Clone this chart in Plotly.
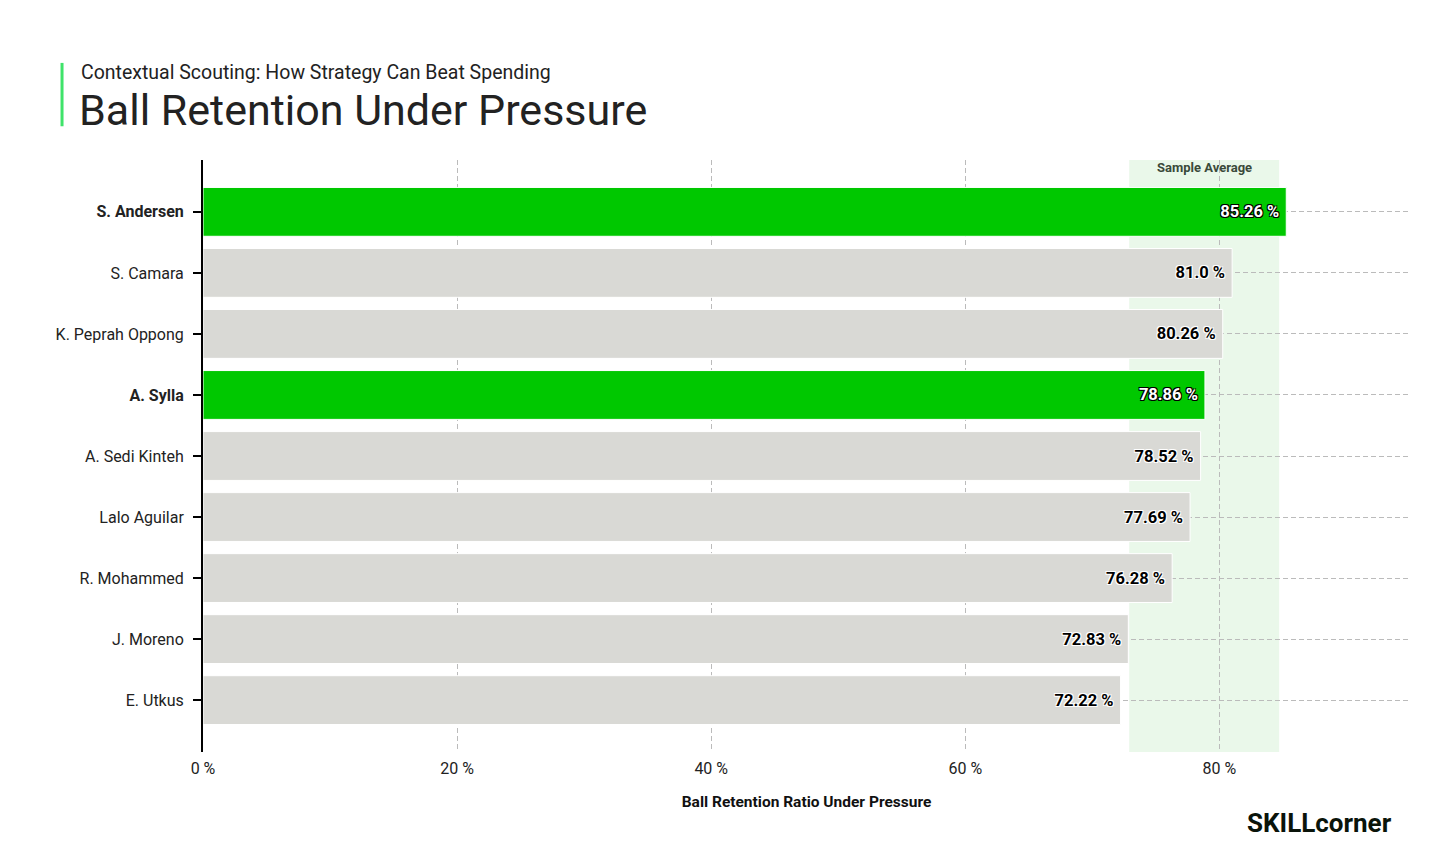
import plotly.graph_objects as go

players = ["S. Andersen", "S. Camara", "K. Peprah Oppong", "A. Sylla", "A. Sedi Kinteh",
           "Lalo Aguilar", "R. Mohammed", "J. Moreno", "E. Utkus"]
values = [85.26, 81.0, 80.26, 78.86, 78.52, 77.69, 76.28, 72.83, 72.22]
highlight = ["S. Andersen", "A. Sylla"]
x_ticks = [0, 20, 40, 60, 80]
x_tick_labels = ["0 %", "20 %", "40 %", "60 %", "80 %"]
band_range = [72.9, 84.7]

GREEN = "#00C800"
GREY = "#D9D9D5"
FONT = "Roboto"

colors = [GREEN if p in highlight else GREY for p in players]
text_colors = ["white" if p in highlight else "black" for p in players]
shadow_colors = ["black" if p in highlight else "white" for p in players]
labels = [f"<b>{v} %</b>\u00a0" for v in values]
tick_text = [f"<b>{p}</b>" if p in highlight else p for p in players]

fig = go.Figure()
for p, v, col, tc, sc, lab in zip(players, values, colors, text_colors, shadow_colors, labels):
    fig.add_trace(go.Bar(
        y=[p], x=[v], orientation="h",
        marker=dict(color=col, line=dict(color="white", width=1)),
        width=0.8,
        text=[lab], textposition="inside", insidetextanchor="end",
        textfont=dict(family=FONT, size=16.5, color=tc,
                      shadow=f"1px 1px 0 {sc}, -1px -1px 0 {sc}, 1px -1px 0 {sc}, -1px 1px 0 {sc}"),
        cliponaxis=False, showlegend=False, hoverinfo="skip",
    ))

fig.add_shape(type="rect", xref="x", yref="paper", x0=band_range[0], x1=band_range[1],
              y0=0, y1=1, fillcolor="#EAF8EA", line=dict(width=0), layer="below")
fig.add_annotation(xref="x", yref="paper", x=(band_range[0] + band_range[1]) / 2, y=1,
                   yanchor="top", yshift=2, text="<b>Sample Average</b>", showarrow=False,
                   font=dict(family=FONT, size=13, color="#3a4a3a"))

# title block
fig.add_shape(type="line", xref="paper", yref="paper", x0=-0.1168, x1=-0.1168,
              y0=1.057, y1=1.164, line=dict(color="#3FE36A", width=3))
fig.add_annotation(xref="paper", yref="paper", x=-0.1030, y=1.147, xanchor="left", yanchor="middle",
                   text="Contextual Scouting: How Strategy Can Beat Spending", showarrow=False,
                   font=dict(family=FONT, size=19.5, color="#222222"))
fig.add_annotation(xref="paper", yref="paper", x=-0.1045, y=1.084, xanchor="left", yanchor="middle",
                   text="Ball Retention Under Pressure", showarrow=False,
                   font=dict(family=FONT, size=43, color="#222222"))
fig.add_annotation(xref="paper", yref="paper", x=0.987, y=-0.12, xanchor="right", yanchor="middle",
                   text="<b>SKILLcorner</b>", showarrow=False,
                   font=dict(family=FONT, size=26, color="#0a140a"))

fig.update_layout(
    width=1440, height=846,
    margin=dict(l=195, r=38, t=152, b=102),
    plot_bgcolor="white", paper_bgcolor="white",
    font=dict(family=FONT, size=15, color="#222222"),
    xaxis=dict(range=[0, 95], tickvals=x_ticks, ticktext=x_tick_labels,
               showgrid=True, gridcolor="#BBBBBB", griddash="5px,3px", gridwidth=1,
               zeroline=False, showline=False, ticks="",
               ticklabelstandoff=5,
               tickfont=dict(family=FONT, size=16, color="#222222"),
               title=dict(text="<b>Ball Retention Ratio Under Pressure</b>", standoff=19,
                          font=dict(family=FONT, size=15.5, color="#111111"))),
    yaxis=dict(categoryorder="array", categoryarray=players, autorange=False,
               tickvals=players, ticktext=tick_text,
               showgrid=True, gridcolor="#BBBBBB", griddash="5px,3px", gridwidth=1,
               showline=True, linecolor="black", linewidth=2,
               ticks="outside", ticklen=8, tickcolor="black", tickwidth=1.5,
               ticklabelstandoff=6,
               tickfont=dict(family=FONT, size=16, color="#222222"),
               range=[len(players) - 0.15, -0.85]),
)

fig.write_html("out.html")
